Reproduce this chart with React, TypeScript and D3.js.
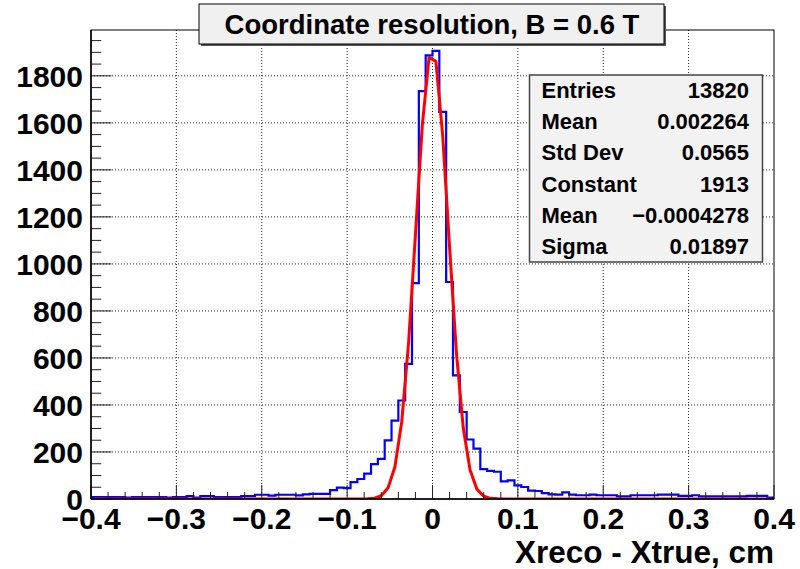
import React from "react";
import * as d3 from "d3";

// ---------- data ----------
const X_MIN = -0.4;
const X_MAX = 0.4;
const N_BINS = 100;

const binCounts: number[] = [
  8, 8, 8, 8, 8, 6, 8, 8, 8, 8,
  8, 6, 8, 8, 12, 6, 12, 12, 8, 8,
  8, 8, 12, 12, 18, 18, 14, 18, 18, 18,
  15, 20, 22, 22, 22, 38, 48, 46, 72, 85,
  108, 148, 171, 249, 333, 419, 575, 918, 1735, 1887,
  1906, 1647, 923, 526, 370, 253, 214, 127, 120, 116,
  75, 79, 58, 51, 36, 34, 25, 20, 19, 28,
  19, 16, 16, 19, 16, 16, 16, 11, 11, 16,
  16, 16, 16, 19, 19, 19, 13, 13, 16, 11,
  11, 11, 11, 11, 11, 11, 13, 13, 13, 6,
];

const FIT_CONSTANT = 1913;
const FIT_MEAN = -0.0004278;
const FIT_SIGMA = 0.01897;

const xTickValues = [-0.4, -0.3, -0.2, -0.1, 0, 0.1, 0.2, 0.3, 0.4];
const xTickLabels = ["\u22120.4", "\u22120.3", "\u22120.2", "\u22120.1", "0", "0.1", "0.2", "0.3", "0.4"];
const yTickValues = [0, 200, 400, 600, 800, 1000, 1200, 1400, 1600, 1800];

const statLabels = ["Entries", "Mean", "Std Dev", "Constant", "Mean", "Sigma"];
const statValues = ["13820", "0.002264", "0.0565", "1913", "\u22120.0004278", "0.01897"];

const TITLE = "Coordinate resolution, B = 0.6 T";
const X_TITLE = "Xreco - Xtrue, cm";

// ---------- layout ----------
const W = 800;
const H = 569;
const L = 91;
const R = 774;
const T = 30;
const B = 499;
const Y_MAX = 1995;
const FONT = "'Liberation Sans', Arial, Helvetica, sans-serif";

export default function App() {
  const x = d3.scaleLinear().domain([X_MIN, X_MAX]).range([L, R]);
  const y = d3.scaleLinear().domain([0, Y_MAX]).range([B, T]);
  const bw = (X_MAX - X_MIN) / N_BINS;

  const histPts: [number, number][] = [[X_MIN, 0]];
  binCounts.forEach((v, i) => {
    const lo = X_MIN + i * bw;
    histPts.push([lo, v], [lo + bw, v]);
  });
  histPts.push([X_MAX, 0]);
  const line = d3
    .line<[number, number]>()
    .x((d) => x(d[0]))
    .y((d) => y(d[1]));
  const histPath = line(histPts) || "";

  // fit function sampled at npx=100 centres (as ROOT paints a TF1)
  const fitPts: [number, number][] = d3.range(N_BINS).map((k) => {
    const xv = X_MIN + (k + 0.5) * bw;
    return [xv, FIT_CONSTANT * Math.exp(-((xv - FIT_MEAN) ** 2) / (2 * FIT_SIGMA * FIT_SIGMA))];
  });
  const fitPath = line(fitPts) || "";

  const xMinor = d3.range(0, 41).map((k) => X_MIN + k * 0.02);
  const yMinor = d3.range(0, 40).map((k) => k * 50);

  const yMajLen = 20.5;
  const yMinLen = 10.25;
  const xMajLen = 14;
  const xMinLen = 7;

  const statsX = 529.5;
  const statsY = 75;
  const statsW = 233;
  const statsH = 187;
  const rowH = statsH / statLabels.length;

  return (
    <svg
      width={W}
      height={H}
      style={{ position: "absolute", left: 0, top: 0, background: "#fff" }}
      fontFamily={FONT}
      fontWeight="bold"
    >
      <rect x={0} y={0} width={W} height={H} fill="#fff" />
      {/* grid */}
      <g stroke="#222" strokeWidth={1} strokeDasharray="1 2">
        {xTickValues.slice(1, -1).map((v) => (
          <line key={"gx" + v} x1={x(v)} x2={x(v)} y1={T} y2={B} />
        ))}
        {yTickValues.slice(1).map((v) => (
          <line key={"gy" + v} x1={L} x2={R} y1={y(v)} y2={y(v)} />
        ))}
      </g>

      {/* histogram & fit */}
      <defs>
        <clipPath id="frameClip">
          <rect x={L} y={T} width={R - L} height={B - T} />
        </clipPath>
      </defs>
      <g clipPath="url(#frameClip)">
        <path d={histPath} fill="none" stroke="#0000ff" strokeWidth={2.2} />
        <path d={fitPath} fill="none" stroke="#ff0000" strokeWidth={3} strokeLinejoin="round" />
      </g>

      {/* frame */}
      <rect x={L} y={T} width={R - L} height={B - T} fill="none" stroke="#000" strokeWidth={1} />

      {/* ticks */}
      <g stroke="#222" strokeWidth={1}>
        {yMinor.map((v) => {
          const major = v % 200 === 0;
          return (
            <line key={"ty" + v} x1={L} x2={L + (major ? yMajLen : yMinLen)} y1={y(v)} y2={y(v)} />
          );
        })}
        {xMinor.map((v, k) => {
          const major = k % 5 === 0;
          return (
            <line key={"tx" + k} x1={x(v)} x2={x(v)} y1={B} y2={B - (major ? xMajLen : xMinLen)} />
          );
        })}
      </g>
      <line x1={L} x2={R} y1={B} y2={B} stroke="#000" strokeWidth={1.5} />
      <line x1={L} x2={L} y1={T} y2={B} stroke="#000" strokeWidth={1.5} />

      {/* y labels */}
      <g fontSize={30} fill="#000" textAnchor="end">
        {yTickValues.map((v) => (
          <text key={"ly" + v} x={L - 8} y={y(v) + 11}>
            {v}
          </text>
        ))}
      </g>
      {/* x labels */}
      <g fontSize={30} fill="#000" textAnchor="middle">
        {xTickValues.map((v, i) => (
          <text key={"lx" + i} x={x(v)} y={529}>
            {xTickLabels[i]}
          </text>
        ))}
      </g>
      <text x={R} y={563} fontSize={31.5} textAnchor="end" fill="#000">
        {X_TITLE}
      </text>

      {/* title box */}
      <rect x={201} y={6} width={465} height={40} fill="#555" />
      <rect x={199} y={4} width={465} height={40} fill="#f0f0f0" stroke="#000" strokeWidth={1} />
      <text x={432} y={34} fontSize={27.5} textAnchor="middle" fill="#000">
        {TITLE}
      </text>

      {/* stats box */}
      <rect x={statsX} y={statsY} width={statsW} height={statsH} fill="#f2f2f2" stroke="#444" strokeWidth={1.5} />
      <g fontSize={22} fill="#000">
        {statLabels.map((s, i) => (
          <text key={"sl" + i} x={541.5} y={statsY + rowH * i + rowH / 2 + 7.5}>
            {s}
          </text>
        ))}
        {statValues.map((s, i) => (
          <text key={"sv" + i} x={749} y={statsY + rowH * i + rowH / 2 + 7.5} textAnchor="end">
            {s}
          </text>
        ))}
      </g>
    </svg>
  );
}
